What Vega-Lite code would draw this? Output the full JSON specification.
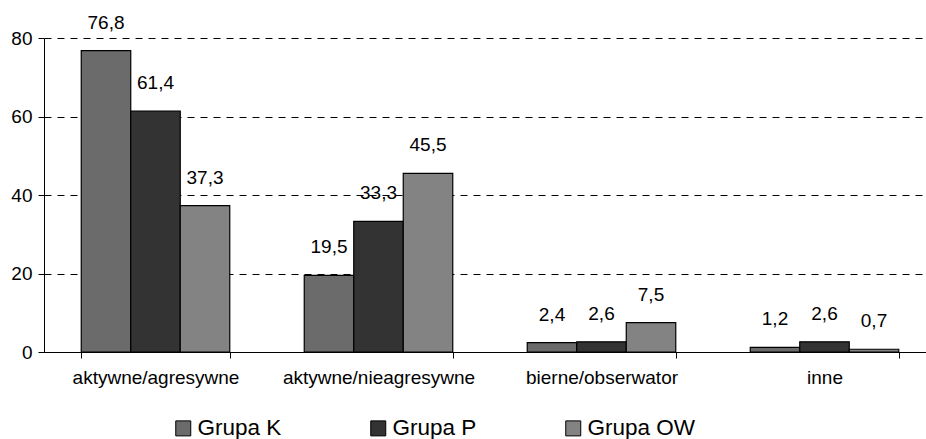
{
  "$schema": "https://vega.github.io/schema/vega-lite/v6.json",
  "width": 892,
  "height": 314,
  "autosize": "none",
  "padding": {"left": 44, "top": 38, "right": 0, "bottom": 87},
  "background": "white",
  "config": {
    "view": {"stroke": null},
    "font": "Liberation Sans",
    "locale": {"number": {"decimal": ",", "thousands": " ", "grouping": [3], "currency": ["", " zł"]}}
  },
  "data": {
    "values": [
      {"kategoria": "aktywne/agresywne", "grupa": "Grupa K", "wartosc": 76.8},
      {"kategoria": "aktywne/agresywne", "grupa": "Grupa P", "wartosc": 61.4},
      {"kategoria": "aktywne/agresywne", "grupa": "Grupa OW", "wartosc": 37.3},
      {"kategoria": "aktywne/nieagresywne", "grupa": "Grupa K", "wartosc": 19.5},
      {"kategoria": "aktywne/nieagresywne", "grupa": "Grupa P", "wartosc": 33.3},
      {"kategoria": "aktywne/nieagresywne", "grupa": "Grupa OW", "wartosc": 45.5},
      {"kategoria": "bierne/obserwator", "grupa": "Grupa K", "wartosc": 2.4},
      {"kategoria": "bierne/obserwator", "grupa": "Grupa P", "wartosc": 2.6},
      {"kategoria": "bierne/obserwator", "grupa": "Grupa OW", "wartosc": 7.5},
      {"kategoria": "inne", "grupa": "Grupa K", "wartosc": 1.2},
      {"kategoria": "inne", "grupa": "Grupa P", "wartosc": 2.6},
      {"kategoria": "inne", "grupa": "Grupa OW", "wartosc": 0.7}
    ]
  },
  "encoding": {
    "x": {
      "field": "kategoria",
      "type": "nominal",
      "sort": ["aktywne/agresywne", "aktywne/nieagresywne", "bierne/obserwator", "inne"],
      "scale": {"paddingInner": 0.334, "paddingOuter": 0.167},
      "axis": {
        "title": null,
        "labelAngle": 0,
        "labelFontSize": 19,
        "labelColor": "black",
        "labelBaseline": "alphabetic",
        "labelPadding": 25,
        "labelLimit": 400,
        "domainColor": "black",
        "tickColor": "black",
        "tickSize": 6,
        "tickBand": "extent",
        "grid": false,
        "zindex": 2
      }
    },
    "xOffset": {
      "field": "grupa",
      "type": "nominal",
      "sort": ["Grupa K", "Grupa P", "Grupa OW"],
      "scale": {"paddingInner": 0, "paddingOuter": 0}
    },
    "y": {
      "field": "wartosc",
      "type": "quantitative",
      "scale": {"domain": [0, 80], "nice": false},
      "axis": {
        "title": null,
        "values": [0, 20, 40, 60, 80],
        "labelFontSize": 19,
        "labelColor": "black",
        "labelPadding": 6,
        "domainColor": "black",
        "tickColor": "black",
        "tickSize": 6,
        "grid": true,
        "gridColor": "black",
        "gridDash": [7, 6],
        "gridWidth": 1,
        "zindex": 0
      }
    }
  },
  "layer": [
    {
      "mark": {"type": "bar", "stroke": "black", "strokeWidth": 1.2},
      "encoding": {
        "fill": {
          "field": "grupa",
          "type": "nominal",
          "sort": ["Grupa K", "Grupa P", "Grupa OW"],
          "scale": {"domain": ["Grupa K", "Grupa P", "Grupa OW"], "range": ["#6b6b6b", "#333333", "#838383"]},
          "legend": {
            "title": null,
            "orient": "none",
            "direction": "horizontal",
            "columns": 3,
            "legendX": 128,
            "legendY": 379,
            "padding": 0,
            "symbolType": "square",
            "symbolSize": 225,
            "symbolStrokeColor": "black",
            "symbolStrokeWidth": 1,
            "symbolOpacity": 1,
            "labelFontSize": 22.5,
            "labelColor": "black",
            "labelOffset": 3,
            "columnPadding": 85,
            "labelLimit": 300
          }
        }
      }
    },
    {
      "mark": {"type": "text", "baseline": "alphabetic", "dy": -22, "fontSize": 19, "color": "black"},
      "encoding": {
        "text": {"field": "wartosc", "type": "quantitative", "format": ".1f"}
      }
    }
  ]
}
